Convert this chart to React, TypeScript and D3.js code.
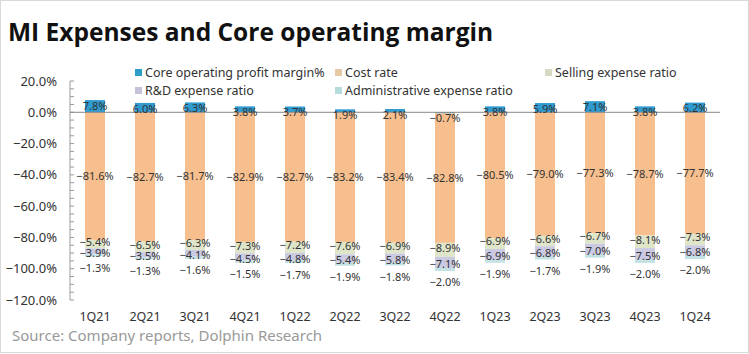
import * as d3 from "d3";

const categories = ["1Q21", "2Q21", "3Q21", "4Q21", "1Q22", "2Q22", "3Q22", "4Q22", "1Q23", "2Q23", "3Q23", "4Q23", "1Q24"];
const coreMargin = [7.8, 6.0, 6.3, 3.8, 3.7, 1.9, 2.1, -0.7, 3.8, 5.9, 7.1, 3.8, 6.2];
const costRate = [-81.6, -82.7, -81.7, -82.9, -82.7, -83.2, -83.4, -82.8, -80.5, -79.0, -77.3, -78.7, -77.7];
const sellingRatio = [-5.4, -6.5, -6.3, -7.3, -7.2, -7.6, -6.9, -8.9, -6.9, -6.6, -6.7, -8.1, -7.3];
const rdRatio = [-3.9, -3.5, -4.1, -4.5, -4.8, -5.4, -5.8, -7.1, -6.9, -6.8, -7.0, -7.5, -6.8];
const adminRatio = [-1.3, -1.3, -1.6, -1.5, -1.7, -1.9, -1.8, -2.0, -1.9, -1.7, -1.9, -2.0, -2.0];
const yTicks = [20, 0, -20, -40, -60, -80, -100, -120];

const series = [
  { key: "core", name: "Core operating profit margin%", values: coreMargin, color: "#2f9bd0", legend: "#2a9dc9" },
  { key: "cost", name: "Cost rate", values: costRate, color: "#f8bf8e", legend: "#e6c9a4" },
  { key: "selling", name: "Selling expense ratio", values: sellingRatio, color: "#dfe5c9", legend: "#d6dac2" },
  { key: "rd", name: "R&D expense ratio", values: rdRatio, color: "#cbcae3", legend: "#c3c2d9" },
  { key: "admin", name: "Administrative expense ratio", values: adminRatio, color: "#c2e2e4", legend: "#b6dbdb" },
];

const W = 749;
const H = 354;
const font = "'Noto Sans', 'Open Sans', sans-serif";

export default function App() {
  const x = d3.scaleBand().domain(categories).range([70, 720]).paddingInner(0.6).paddingOuter(0.3);
  const y = d3.scaleLinear().domain([-120, 20]).range([300, 81]);

  const rows = categories.map((c, i) => {
    const r: Record<string, number | string> = { cat: c };
    series.forEach((s) => (r[s.key] = s.values[i]));
    return r;
  });
  const stacked = d3
    .stack<Record<string, number | string>>()
    .keys(series.map((s) => s.key))
    .offset(d3.stackOffsetDiverging)(rows as any);

  const minorTicks = d3.range(-120, 21, 5);

  const legendPos = [
    [135, 73],
    [335, 73],
    [545, 73],
    [135, 91],
    [335, 91],
  ];

  return (
    <div style={{ position: "absolute", left: 0, top: 0 }}>
      <svg width={W} height={H} style={{ display: "block", fontFamily: font }}>
        <rect x={0.5} y={0.5} width={W - 1} height={H - 2} fill="#fff" stroke="#d9d9d9" />
        <text x={8} y={41} fontSize={24.5} fontWeight={700} fill="#111" fontFamily="'Open Sans', sans-serif">
          MI Expenses and Core operating margin
        </text>

        {/* legend */}
        {series.map((s, i) => (
          <g key={s.key} transform={`translate(${legendPos[i][0]},${legendPos[i][1]})`}>
            <rect x={0} y={-4} width={7} height={7} fill={s.legend} />
            <text x={10} y={0} dy="0.35em" fontSize={12.5} fill="#333">
              {s.name}
            </text>
          </g>
        ))}

        {/* y axis */}
        <line x1={70} x2={70} y1={y(20)} y2={y(-120)} stroke="#999" />
        {minorTicks.map((t) => (
          <line key={t} x1={70} x2={74} y1={y(t)} y2={y(t)} stroke="#999" />
        ))}
        {yTicks.map((t) => (
          <text key={t} x={57} y={y(t)} dy="0.35em" textAnchor="end" fontSize={13} fill="#333">
            {d3.format(".1f")(t)}%
          </text>
        ))}

        {/* bars */}
        {stacked.map((layer, li) => (
          <g key={layer.key} fill={series[li].color}>
            {layer.map((d, i) => (
              <rect
                key={i}
                x={x(categories[i])!}
                width={x.bandwidth()}
                y={y(Math.max(d[0], d[1]))}
                height={Math.abs(y(d[0]) - y(d[1]))}
              />
            ))}
          </g>
        ))}

        {/* zero line */}
        <line x1={70} x2={720} y1={y(0)} y2={y(0)} stroke="#888" />

        {/* labels */}
        {stacked.map((layer, li) =>
          layer.map((d, i) => {
            const v = series[li].values[i];
            const k = series[li].key;
            let cy = y((d[0] + d[1]) / 2);
            if (k === "admin") cy += 13;
            if (k === "selling") cy -= 2;
            if (k === "rd") cy += 2;
            if (k === "core") cy = v < 0 ? y(0) + 6 : y(v) + 6;
            return (
              <text
                key={`${layer.key}-${i}`}
                x={x(categories[i])! + x.bandwidth() / 2}
                y={cy}
                dy="0.35em"
                textAnchor="middle"
                fontSize={11}
                fill="#333"
              >
                {d3.format(".1f")(v)}%
              </text>
            );
          })
        )}

        {/* x labels */}
        {categories.map((c) => (
          <text key={c} x={x(c)! + x.bandwidth() / 2} y={317} dy="0.35em" textAnchor="middle" fontSize={12.5} fill="#333">
            {c}
          </text>
        ))}

        <text x={12} y={336} dy="0.35em" fontSize={15} fill="#999">
          Source: Company reports, Dolphin Research
        </text>
      </svg>
    </div>
  );
}
